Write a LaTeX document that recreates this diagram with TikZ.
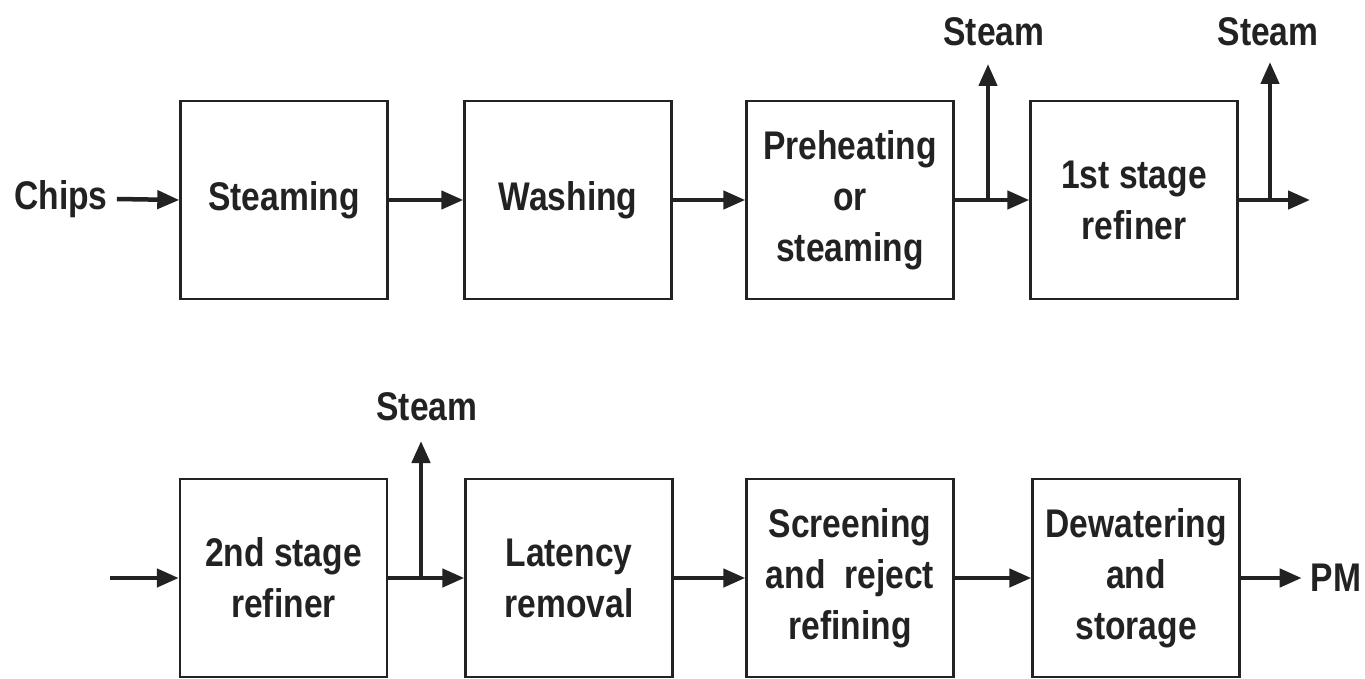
\documentclass[tikz,border=0pt]{standalone}
\usepackage{fontspec}
\setmainfont{Liberation Sans}[FakeStretch=0.84]
\usetikzlibrary{arrows.meta}
\definecolor{ink}{HTML}{222222}
\begin{document}
\begin{tikzpicture}[x=1pt,y=-1pt,
  txt/.style={text=ink, font=\fontsize{40}{51}\selectfont\bfseries, inner sep=0pt, align=center},
  box/.style={txt, draw=ink, line width=2.4pt, minimum width=207pt, minimum height=198pt},
  flow/.style={draw=ink, line width=4.5pt, -{Triangle[length=22pt,width=18pt]}}
]
\useasboundingbox (0,0) rectangle (1365,679);

% upper line of the process
\node[box] (steaming) at (284,200) {Steaming};
\node[box] (washing)  at (568,200) {Washing};
\node[box] (preheat)  at (850,200) {Preheating\\or\\steaming};
\node[box] (first)    at (1134,200) {1st stage\\refiner};

\node[txt] (chips) at (61,199) {Chips};
\node[txt] (steamA) at (994,32) {Steam};
\node[txt] (steamB) at (1268,32) {Steam};

\coordinate (jA) at (988,200);
\coordinate (tA) at (988,64);
\coordinate (jB) at (1270,200);
\coordinate (tB) at (1270,62);
\coordinate (outA) at (1310,200);

\draw[flow] (chips.east) ++(9,0) -- (steaming.west);
\draw[flow] (steaming.east) -- (washing.west);
\draw[flow] (washing.east) -- (preheat.west);
\draw[flow] (preheat.east) -- (first.west);
\draw[flow] (jA) -- (tA);
\draw[flow] (first.east) -- (outA);
\draw[flow] (jB) -- (tB);

% lower line of the process
\node[box] (second)  at (283.5,578) {2nd stage\\refiner};
\node[box] (latency) at (569,578) {Latency\\removal};
\node[box] (screen)  at (850,578) {Screening\\and\ \ reject\\refining};
\node[box] (dewater) at (1136,578) {Dewatering\\and\\storage};

\node[txt] (steamC) at (427,407) {Steam};
\node[txt] (pm) at (1336,578) {PM};

\coordinate (inB) at (110,578);
\coordinate (jC) at (421,578);
\coordinate (tC) at (421,441);

\draw[flow] (inB) -- (second.west);
\draw[flow] (second.east) -- (latency.west);
\draw[flow] (jC) -- (tC);
\draw[flow] (latency.east) -- (screen.west);
\draw[flow] (screen.east) -- (dewater.west);
\draw[flow] (dewater.east) -- ++(61,0);
\end{tikzpicture}
\end{document}
